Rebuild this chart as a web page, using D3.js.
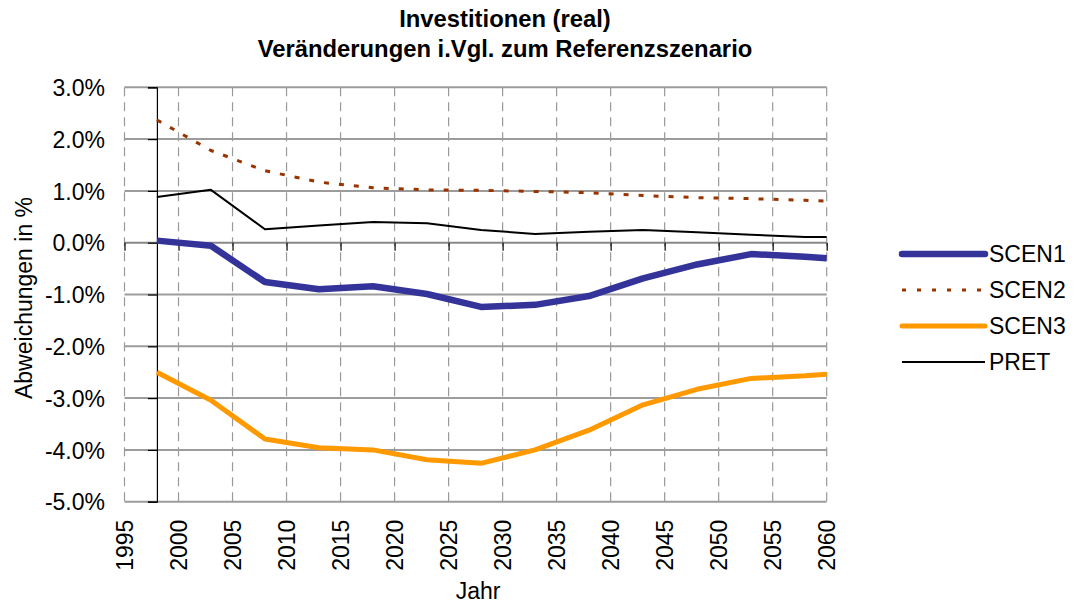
<!DOCTYPE html>
<html>
<head>
<meta charset="utf-8">
<script src="https://cdn.jsdelivr.net/npm/d3@7"></script>
<style>
  html, body { margin: 0; padding: 0; background: #fff; }
  svg { display: block; font-family: "Liberation Sans", Arial, sans-serif; }
</style>
</head>
<body>
<svg id="chart" width="1075" height="606"></svg>
<script>
const years = [1998, 2003, 2008, 2013, 2018, 2023, 2028, 2033, 2038, 2043, 2048, 2053, 2058, 2060];
const scen1 = [0.04, -0.06, -0.76, -0.90, -0.84, -0.99, -1.24, -1.20, -1.03, -0.69, -0.42, -0.22, -0.27, -0.30];
const scen2 = [2.37, 1.78, 1.39, 1.17, 1.06, 1.02, 1.01, 0.99, 0.965, 0.91, 0.87, 0.85, 0.82, 0.80];
const scen3 = [-2.50, -3.04, -3.79, -3.96, -4.00, -4.19, -4.26, -4.00, -3.62, -3.13, -2.83, -2.62, -2.57, -2.54];
const pret  = [0.88, 1.02, 0.26, 0.33, 0.40, 0.375, 0.245, 0.17, 0.21, 0.245, 0.20, 0.155, 0.11, 0.11];
const seriesNames = ["SCEN1", "SCEN2", "SCEN3", "PRET"];
const xTicks = d3.range(1995, 2061, 5);
const yTicks = [3, 2, 1, 0, -1, -2, -3, -4, -5];
const titleLines = ["Investitionen (real)", "Veränderungen i.Vgl. zum Referenzszenario"];
const xTitle = "Jahr";
const yTitle = "Abweichungen in %";

const styles = {
  SCEN1: { color: "#333399", width: 6.5, dash: null },
  SCEN2: { color: "#993300", width: 3, dash: "5,10" },
  SCEN3: { color: "#FF9900", width: 5, dash: null },
  PRET:  { color: "#000000", width: 2, dash: null }
};
const seriesData = { SCEN1: scen1, SCEN2: scen2, SCEN3: scen3, PRET: pret };

const svg = d3.select("#chart");
const pLeft = 124.5, pRight = 826.7, pTop = 87.3, pBottom = 501.7;
const x = d3.scaleLinear().domain([1995, 2060]).range([pLeft, pRight]);
const y = d3.scaleLinear().domain([-5, 3]).range([pBottom, pTop]);
const FS = 23;

// vertical dashed gridlines
svg.append("g").selectAll("line").data(xTicks).join("line")
  .attr("x1", d => x(d)).attr("x2", d => x(d))
  .attr("y1", pTop).attr("y2", pBottom)
  .attr("stroke", "#999").attr("stroke-width", 1.2)
  .attr("stroke-dasharray", "9,6");

// horizontal gridlines
svg.append("g").selectAll("line").data(yTicks).join("line")
  .attr("x1", pLeft).attr("x2", pRight)
  .attr("y1", d => y(d)).attr("y2", d => y(d))
  .attr("stroke", d => d === 0 ? "#888" : "#9c9c9c").attr("stroke-width", 2);

// y axis at 1998
const yAxis = d3.axisLeft(y).tickValues(yTicks).tickSize(9).tickFormat("");
const yg = svg.append("g").attr("transform", `translate(${x(1998)},0)`).call(yAxis);
yg.select(".domain").attr("stroke", "#000").attr("stroke-width", 1.2);
yg.selectAll(".tick line").attr("stroke", "#000").attr("stroke-width", 1.2);

// y tick labels
const yLab = d3.axisLeft(y).tickValues(yTicks).tickSize(0).tickPadding(0)
  .tickFormat(d => d.toFixed(1) + "%");
const ylg = svg.append("g").attr("transform", `translate(105,0)`).call(yLab);
ylg.select(".domain").remove();
ylg.selectAll("text").attr("font-size", FS).attr("font-family", "Liberation Sans, Arial, sans-serif")
  .attr("fill", "#000").attr("x", 0).attr("dy", "0.36em");

// x ticks at 0 line
const xAxis0 = d3.axisBottom(x).tickValues(xTicks).tickSize(8).tickFormat("");
const xg0 = svg.append("g").attr("transform", `translate(0,${y(0)})`).call(xAxis0);
xg0.select(".domain").remove();
xg0.selectAll(".tick line").attr("stroke", "#000").attr("stroke-width", 1.2);

// x tick labels at bottom
const xLab = d3.axisBottom(x).tickValues(xTicks).tickSize(0).tickFormat(d3.format("d"));
const xlg = svg.append("g").attr("transform", `translate(0,${pBottom})`).call(xLab);
xlg.select(".domain").remove();
xlg.selectAll("text")
  .attr("font-size", FS).attr("font-family", "Liberation Sans, Arial, sans-serif").attr("fill", "#000")
  .attr("transform", "rotate(-90)")
  .attr("text-anchor", "end")
  .attr("x", -18).attr("y", 0).attr("dy", "0.36em");

// lines
const line = d3.line().x((d, i) => x(years[i])).y(d => y(d));
seriesNames.forEach(name => {
  const s = styles[name];
  svg.append("path").datum(seriesData[name])
    .attr("d", line)
    .attr("fill", "none")
    .attr("stroke", s.color)
    .attr("stroke-width", s.width)
    .attr("stroke-linejoin", "round")
    .attr("stroke-dasharray", s.dash);
});

// title
svg.append("g").selectAll("text").data(titleLines).join("text")
  .attr("x", 505).attr("y", (d, i) => 27 + i * 29.5)
  .attr("text-anchor", "middle")
  .attr("font-size", 23.8).attr("font-weight", "bold")
  .text(d => d);

// axis titles
svg.append("text").attr("x", 478).attr("y", 599).attr("text-anchor", "middle")
  .attr("font-size", FS).text(xTitle);
svg.append("text").attr("transform", `translate(32,298) rotate(-90)`)
  .attr("text-anchor", "middle").attr("font-size", FS).text(yTitle);

// legend
const legY = d3.scalePoint().domain(seriesNames).range([254, 362]);
const lg = svg.append("g");
seriesNames.forEach(name => {
  const s = styles[name];
  lg.append("line")
    .attr("x1", 902).attr("x2", 985)
    .attr("y1", legY(name)).attr("y2", legY(name))
    .attr("stroke", s.color).attr("stroke-width", s.width)
    .attr("stroke-linecap", s.dash ? "butt" : (name === "PRET" ? "butt" : "round"))
    .attr("stroke-dasharray", s.dash ? "4,11" : null);
  lg.append("text").attr("x", 989).attr("y", legY(name)).attr("dy", "0.36em")
    .attr("font-size", FS).text(name);
});
</script>
</body>
</html>
